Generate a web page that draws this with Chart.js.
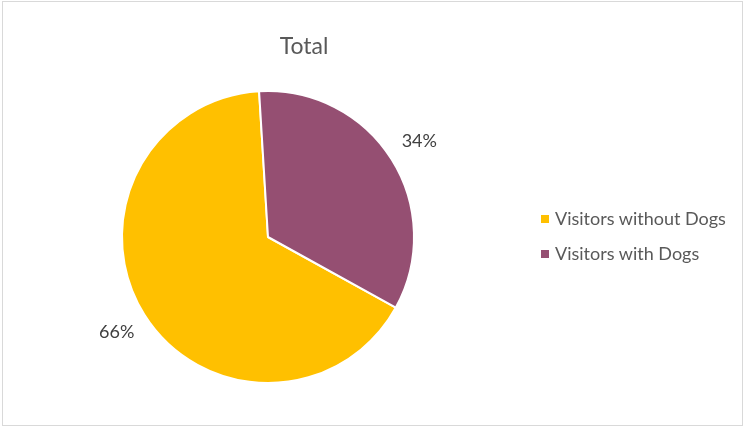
<!DOCTYPE html>
<html>
<head>
<meta charset="utf-8">
<script src="https://cdn.jsdelivr.net/npm/chart.js@4.4.0/dist/chart.umd.min.js"></script>
<style>
  html, body { margin: 0; padding: 0; background: #fff; }
  #wrap { position: relative; width: 744px; height: 427px; overflow: hidden; }
  #frame { position: absolute; left: 2px; top: 1px; width: 739px; height: 423px; border: 1px solid #d9d9d9; }
  #pie { position: absolute; left: 0; top: 0; }
  #title { position: absolute; left: 204px; width: 200px; top: 31px; text-align: center;
           font: 23px Lato, "Open Sans", sans-serif; color: #595959; }
  #legend { position: absolute; left: 541px; top: 205px; font: 18px Lato, "Open Sans", sans-serif; color: #595959; }
  #legend div { height: 35px; line-height: 26px; white-space: nowrap; }
  #legend span { display: inline-block; width: 8px; height: 8px; margin-right: 6px; vertical-align: 2px; }
</style>
</head>
<body>
<div id="wrap">
  <div id="frame"></div>
  <canvas id="pie" width="744" height="427"></canvas>
  <div id="title">Total</div>
  <div id="legend"></div>
</div>
<script>
const categories = ['Visitors without Dogs', 'Visitors with Dogs'];
const shares = [66, 34];
const sliceColors = ['#FFC000', '#954F72'];

// percent labels sit just outside each slice
const outsideLabels = {
  id: 'outsideLabels',
  afterDatasetsDraw(chart) {
    const ctx = chart.ctx;
    const arcs = chart.getDatasetMeta(0).data;
    ctx.save();
    ctx.font = '18px Lato, "Open Sans", sans-serif';
    ctx.fillStyle = '#404040';
    ctx.textAlign = 'center';
    ctx.textBaseline = 'middle';
    arcs.forEach((arc, i) => {
      const mid = (arc.startAngle + arc.endAngle) / 2;
      const r = arc.outerRadius + 33;
      ctx.fillText(shares[i] + '%', arc.x + Math.cos(mid) * r, arc.y + Math.sin(mid) * r);
    });
    ctx.restore();
  }
};

const chart = new Chart(document.getElementById('pie'), {
  type: 'pie',
  data: {
    labels: categories,
    datasets: [{
      data: shares,
      backgroundColor: sliceColors,
      borderColor: '#ffffff',
      borderWidth: 2,
      hoverOffset: 0
    }]
  },
  options: {
    responsive: false,
    animation: false,
    rotation: 118.9,
    layout: { padding: { top: 90, bottom: 43, left: 0, right: 208 } },
    plugins: {
      legend: { display: false },
      tooltip: { enabled: false }
    }
  },
  plugins: [outsideLabels]
});

const legendEl = document.getElementById('legend');
chart.data.labels.forEach((label, i) => {
  const row = document.createElement('div');
  row.innerHTML = '<span style="background:' + sliceColors[i] + '"></span>' + label;
  legendEl.appendChild(row);
});
</script>
</body>
</html>
